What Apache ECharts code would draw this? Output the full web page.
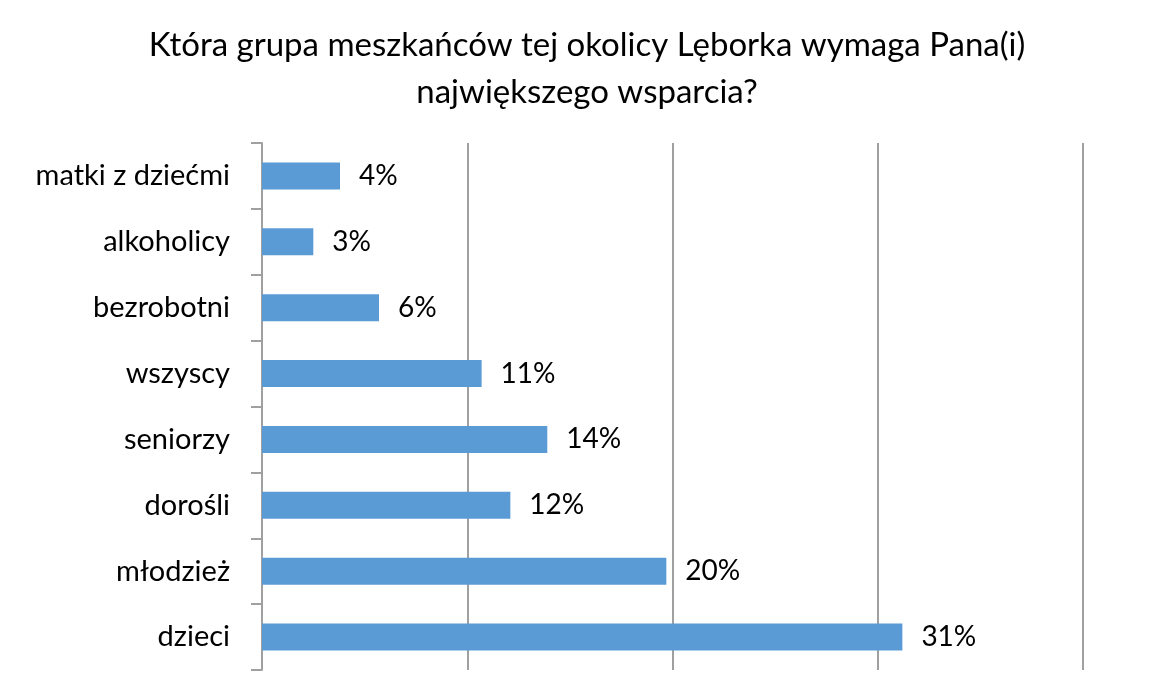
<!DOCTYPE html>
<html>
<head>
<meta charset="utf-8">
<script src="https://cdn.jsdelivr.net/npm/echarts@6/dist/echarts.min.js"></script>
<style>
  html, body { margin: 0; padding: 0; background: #fff; }
  #chart { width: 1155px; height: 682px; }
</style>
</head>
<body>
<div id="chart"></div>
<script>
// kategorie od góry do dołu
const categories = ['matki z dziećmi', 'alkoholicy', 'bezrobotni', 'wszyscy', 'seniorzy', 'dorośli', 'młodzież', 'dzieci']
// długości słupków (etykiety są zaokrąglone)
const values = [3.8, 2.5, 5.7, 10.7, 13.9, 12.1, 19.7, 31.2]
const xTicks = [0, 10, 20, 30, 40]

const chart = echarts.init(document.getElementById('chart'))
const font = 'Lato, "Open Sans", sans-serif'

const option = {
  title: {
    text: 'Która grupa meszkańców tej okolicy Lęborka wymaga Pana(i)\nnajwiększego wsparcia?',
    // środek tytułu lekko w prawo, jak w oryginale
    left: 587,
    textAlign: 'center',
    top: 22,
    padding: 0,
    textStyle: {
      fontFamily: font,
      fontWeight: 'normal',
      fontSize: 33,
      lineHeight: 47,
      color: '#000'
    }
  },
  grid: {
    left: 262,
    right: 72,
    top: 143,
    bottom: 12,
    containLabel: false
  },
  xAxis: {
    type: 'value',
    min: xTicks[0],
    max: xTicks[xTicks.length - 1],
    interval: 10,
    axisLine: { show: false },
    axisTick: { show: false },
    axisLabel: { show: false },
    splitLine: { lineStyle: { color: '#a0a0a0', width: 2 } }
  },
  yAxis: {
    type: 'category',
    inverse: true,
    data: categories,
    axisLine: { show: true, lineStyle: { color: '#a0a0a0', width: 2 } },
    axisTick: { show: true, length: 11, lineStyle: { color: '#a0a0a0', width: 2 } },
    axisLabel: {
      margin: 32,
      fontFamily: font,
      fontSize: 29,
      color: '#000'
    }
  },
  series: [
    {
      type: 'bar',
      data: values,
      barWidth: '41%',
      itemStyle: { color: '#5B9BD5' },
      label: {
        show: true,
        position: 'right',
        distance: 19,
        fontFamily: font,
        fontSize: 28,
        color: '#000',
        formatter: p => Math.round(p.value) + '%'
      },
      animation: false
    }
  ],
  animation: false
}

chart.setOption(option)
</script>
</body>
</html>
